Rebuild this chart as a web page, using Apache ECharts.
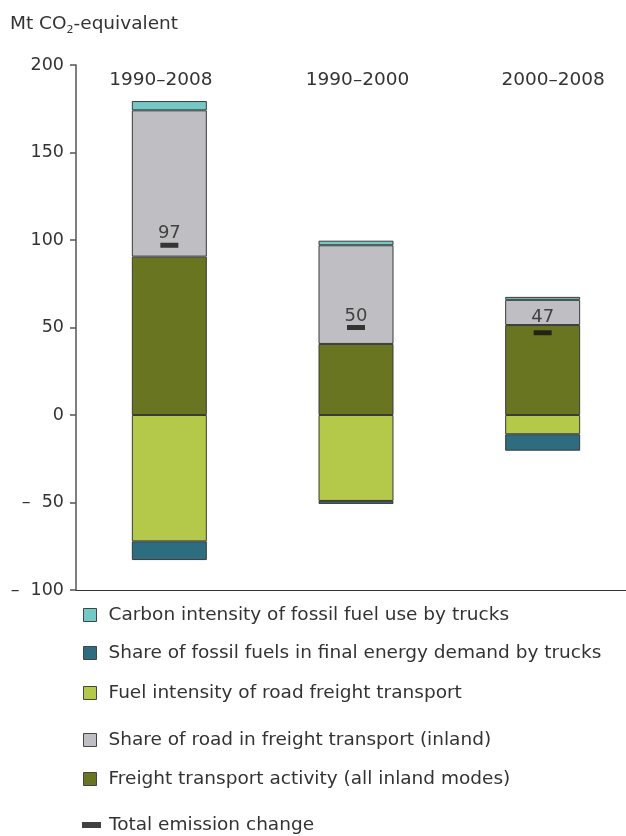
<!DOCTYPE html>
<html>
<head>
<meta charset="utf-8">
<script src="https://cdn.jsdelivr.net/npm/echarts@6/dist/echarts.min.js"></script>
<style>html,body{margin:0;padding:0;background:#fff;overflow:hidden}#c{width:636px;height:836px}</style>
</head>
<body>
<div id="c"></div>
<script>
const categories = ['1990–2008', '1990–2000', '2000–2008'];
const freightActivity = [90.5, 40.6, 51.4];
const shareRoad = [83.6, 56.4, 14.4];
const carbonIntensity = [5.3, 2.6, 1.7];
const fuelIntensity = [-72.2, -49.1, -11.0];
const shareFossil = [-10.7, -1.7, -9.4];
const totalChange = [97, 50, 47];
const yTicks = { min: -100, max: 200, interval: 50 };

const FONT = 'DejaVu Sans';
const names = {
  carbon: 'Carbon intensity of fossil fuel use by trucks',
  fossil: 'Share of fossil fuels in final energy demand by trucks',
  fuel: 'Fuel intensity of road freight transport',
  road: 'Share of road in freight transport (inland)',
  activity: 'Freight transport activity (all inland modes)',
  total: 'Total emission change'
};
const colors = {
  carbon: '#73c9c5', fossil: '#2e6d80', fuel: '#b4c94a', road: '#bebec3', activity: '#6a7522'
};

function barSeries(key, data) {
  return {
    name: names[key], type: 'bar', stack: 'a', data: data, barWidth: 75,
    xAxisIndex: 0,
    itemStyle: { color: colors[key], borderColor: '#3a3a3a', borderWidth: 1 }
  };
}

const legendRows = [
  ['carbon', 615], ['fossil', 653], ['fuel', 693], ['road', 740], ['activity', 779]
];
const legends = legendRows.map(([k, y]) => ({
  data: [{ name: names[k], icon: 'rect' }],
  left: 83, top: y - 11, padding: 0, itemWidth: 13, itemHeight: 13, itemGap: 0,
  selectedMode: false,
  itemStyle: { borderColor: '#444', borderWidth: 1 },
  textStyle: { fontFamily: FONT, fontSize: 18.5, color: '#333', lineHeight: 22, padding: [0, 0, 0, 7] }
}));
legends.push({
  data: [{ name: names.total, icon: 'rect' }],
  left: 82, top: 825 - 11, padding: 0, itemWidth: 19, itemHeight: 6,
  selectedMode: false,
  itemStyle: { color: '#111' },
  textStyle: { fontFamily: FONT, fontSize: 18.5, color: '#333', lineHeight: 22, padding: [0, 0, 0, 3] }
});

const labelStyle = { fontFamily: FONT, fontSize: 18.5, color: '#333' };

const chart = echarts.init(document.getElementById('c'), null, { renderer: 'canvas' });
chart.setOption({
  animation: false,
  backgroundColor: '#fff',
  title: {
    text: 'Mt CO{s|2}-equivalent', left: 10, top: 12, padding: 0,
    textStyle: {
      fontFamily: FONT, fontSize: 18.5, fontWeight: 'normal', color: '#333',
      rich: { s: { fontFamily: FONT, fontSize: 11, color: '#333', padding: [13, 0, 0, 0] } }
    }
  },
  legend: legends,
  grid: { left: 76, top: 65, bottom: 246, right: 0, containLabel: false },
  xAxis: [
    {
      type: 'category', data: categories, position: 'top',
      axisLine: { show: false }, axisTick: { show: false },
      axisLabel: {
        inside: true, margin: 6, interval: 0, hideOverlap: false,
        fontFamily: FONT, fontSize: 18.5, color: '#333',
        formatter: (v, i) => '{p' + i + '|' + v + '}',
        rich: {
          p0: Object.assign({ padding: [0, 17, 0, 0] }, labelStyle),
          p1: Object.assign({ padding: [0, 0, 0, 3] }, labelStyle),
          p2: Object.assign({ padding: [0, 0, 0, 21] }, labelStyle)
        }
      }
    },
    {
      type: 'category', data: categories, position: 'bottom',
      axisLine: { show: true, onZero: true, lineStyle: { color: '#333', width: 1 } },
      axisTick: { show: false }, axisLabel: { show: false }
    }
  ],
  yAxis: {
    type: 'value', min: yTicks.min, max: yTicks.max, interval: yTicks.interval,
    splitLine: { show: false },
    axisLine: { show: true, onZero: false, lineStyle: { color: '#555', width: 1.5 } },
    axisTick: { show: true, length: 6, lineStyle: { color: '#555', width: 1.5 } },
    axisLabel: {
      margin: 12, fontFamily: FONT, fontSize: 17.5, color: '#333',
      formatter: v => v < 0 ? '–  ' + Math.abs(v) : String(v)
    }
  },
  series: [
    barSeries('activity', freightActivity),
    barSeries('road', shareRoad),
    barSeries('carbon', carbonIntensity),
    barSeries('fuel', fuelIntensity),
    barSeries('fossil', shareFossil),
    {
      name: names.total, type: 'scatter', xAxisIndex: 0, z: 5,
      symbol: 'rect', symbolSize: [18, 5],
      itemStyle: { color: '#111' },
      data: totalChange.map((v, i) => ({
        value: v,
        label: { distance: i === 2 ? 4 : 0 }
      })),
      label: {
        show: true, position: 'top', distance: 0,
        fontFamily: FONT, fontSize: 18, color: '#222'
      }
    }
  ]
});
</script>
</body>
</html>
